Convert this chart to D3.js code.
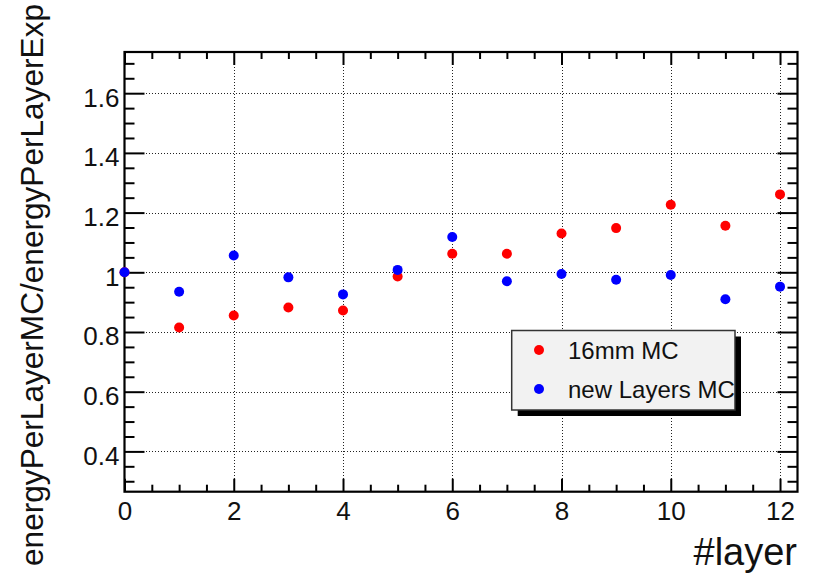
<!DOCTYPE html>
<html>
<head>
<meta charset="utf-8">
<script src="https://cdn.jsdelivr.net/npm/d3@7"></script>
<style>
  html, body { margin: 0; padding: 0; background: #fff; }
  svg { display: block; }
  text { font-family: "Liberation Sans", Arial, Helvetica, sans-serif; fill: #111; }
</style>
</head>
<body>
<script>
// ---- data ----
const layers = [0, 1, 2, 3, 4, 5, 6, 7, 8, 9, 10, 11, 12];
const mc16mm = [1.000, 0.815, 0.855, 0.882, 0.872, 0.986, 1.062, 1.062, 1.130, 1.148, 1.226, 1.156, 1.261];
const newLayersMC = [1.000, 0.935, 1.056, 0.983, 0.926, 1.008, 1.118, 0.970, 0.994, 0.975, 0.991, 0.910, 0.952];
const seriesNames = ["16mm MC", "new Layers MC"];
const xMajorTicks = [0, 2, 4, 6, 8, 10, 12];
const yMajorTicks = [0.4, 0.6, 0.8, 1.0, 1.2, 1.4, 1.6];
const yTickLabels = ["0.4", "0.6", "0.8", "1", "1.2", "1.4", "1.6"];
const xTitle = "#layer";
const yTitle = "energyPerLayerMC/energyPerLayerExp";

// ---- layout ----
const W = 817, H = 574;
const L = 124.5, R = 797.5, T = 52, B = 491.7;
const colors = ["#ff0000", "#0000ff"];

const svg = d3.select("body").append("svg").attr("width", W).attr("height", H);

const x = d3.scaleLinear().domain([0, 12.32]).range([L, R]);
const y = d3.scaleLinear().domain([0.265, 1.738]).range([B, T]);

const xMinor = d3.range(0, 12.01, 0.5).filter(v => xMajorTicks.indexOf(v) < 0);
const yMinor = d3.range(0.30, 1.701, 0.05).map(v => +v.toFixed(2))
  .filter(v => !yMajorTicks.some(m => Math.abs(m - v) < 1e-6));

// grid
const grid = svg.append("g").attr("stroke", "#222").attr("stroke-width", 1)
  .attr("stroke-dasharray", "1,2").attr("shape-rendering", "crispEdges");
grid.selectAll("line.gx").data(xMajorTicks.filter(v => v > 0)).join("line")
  .attr("x1", d => Math.round(x(d)) + 0.5).attr("x2", d => Math.round(x(d)) + 0.5).attr("y1", T).attr("y2", B);
grid.selectAll("line.gy").data(yMajorTicks).join("line")
  .attr("x1", L).attr("x2", R).attr("y1", d => Math.round(y(d)) + 0.5).attr("y2", d => Math.round(y(d)) + 0.5);

// axes
function styleAxis(g) {
  g.select(".domain").remove();
  g.selectAll(".tick line").attr("stroke", "#000").attr("stroke-width", 2);
}
// bottom
svg.append("g").attr("transform", `translate(0,${B})`)
  .call(d3.axisBottom(x).tickValues(xMajorTicks).tickSizeInner(-13).tickSizeOuter(0)
    .tickPadding(10).tickFormat(d3.format("d")))
  .call(styleAxis)
  .call(g => g.selectAll("text").attr("font-size", 26).attr("fill", "#111"));
svg.append("g").attr("transform", `translate(0,${B})`)
  .call(d3.axisBottom(x).tickValues(xMinor).tickSizeInner(-7).tickSizeOuter(0).tickFormat(""))
  .call(styleAxis);
// top
svg.append("g").attr("transform", `translate(0,${T})`)
  .call(d3.axisTop(x).tickValues(xMajorTicks).tickSizeInner(-13).tickSizeOuter(0).tickFormat(""))
  .call(styleAxis);
svg.append("g").attr("transform", `translate(0,${T})`)
  .call(d3.axisTop(x).tickValues(xMinor).tickSizeInner(-7).tickSizeOuter(0).tickFormat(""))
  .call(styleAxis);
// left
svg.append("g").attr("transform", `translate(${L},0)`)
  .call(d3.axisLeft(y).tickValues(yMajorTicks).tickSizeInner(-20).tickSizeOuter(0)
    .tickPadding(5).tickFormat((d, i) => yTickLabels[i]))
  .call(styleAxis)
  .call(g => g.selectAll("text").attr("font-size", 26).attr("dy", "0.5em").attr("fill", "#111"));
svg.append("g").attr("transform", `translate(${L},0)`)
  .call(d3.axisLeft(y).tickValues(yMinor).tickSizeInner(-10).tickSizeOuter(0).tickFormat(""))
  .call(styleAxis);
// right
svg.append("g").attr("transform", `translate(${R},0)`)
  .call(d3.axisRight(y).tickValues(yMajorTicks).tickSizeInner(-20).tickSizeOuter(0).tickFormat(""))
  .call(styleAxis);
svg.append("g").attr("transform", `translate(${R},0)`)
  .call(d3.axisRight(y).tickValues(yMinor).tickSizeInner(-10).tickSizeOuter(0).tickFormat(""))
  .call(styleAxis);

// frame
svg.append("rect").attr("x", L).attr("y", T).attr("width", R - L).attr("height", B - T)
  .attr("fill", "none").attr("stroke", "#000").attr("stroke-width", 2.2);

// points
const seriesData = [mc16mm, newLayersMC];
seriesData.forEach((vals, si) => {
  svg.append("g").selectAll("circle").data(layers).join("circle")
    .attr("cx", d => x(d)).attr("cy", (d, i) => y(vals[i])).attr("r", 5)
    .attr("fill", colors[si]);
});

// legend
const lg = svg.append("g");
const lx0 = 511.7, ly0 = 330.5, lx1 = 735, ly1 = 410;
lg.append("rect").attr("x", lx0 + 6).attr("y", ly0 + 6).attr("width", lx1 - lx0).attr("height", ly1 - ly0)
  .attr("fill", "#000");
lg.append("rect").attr("x", lx0).attr("y", ly0).attr("width", lx1 - lx0).attr("height", ly1 - ly0)
  .attr("fill", "#f2f2f2").attr("stroke", "#333").attr("stroke-width", 1.5);
const legY = [350, 389];
seriesNames.forEach((name, i) => {
  lg.append("circle").attr("cx", 539).attr("cy", legY[i]).attr("r", 5).attr("fill", colors[i]);
  lg.append("text").attr("x", 568).attr("y", legY[i] + 9).attr("font-size", 24).text(name);
});

// titles
svg.append("text").attr("x", 797).attr("y", 565).attr("text-anchor", "end")
  .attr("font-size", 38).text(xTitle);
svg.append("text").attr("transform", "translate(43,4) rotate(-90)").attr("text-anchor", "end")
  .attr("font-size", 31.6).text(yTitle);
</script>
</body>
</html>
